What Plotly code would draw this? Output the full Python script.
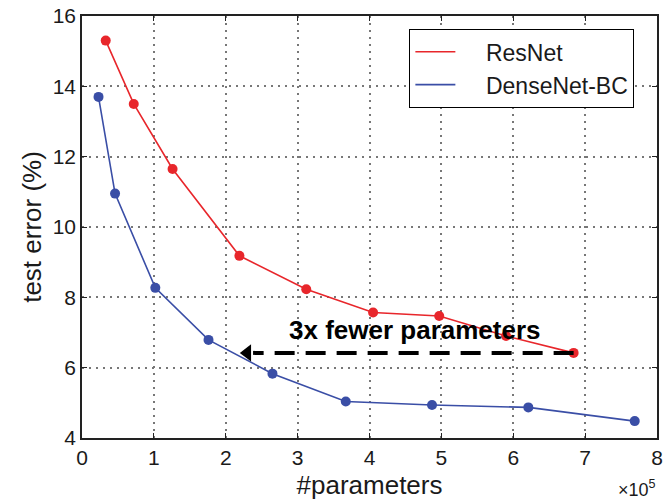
import plotly.graph_objects as go

# Data (x in units of 1e5 parameters)
resnet_x = [0.33, 0.72, 1.26, 2.19, 3.12, 4.05, 4.97, 5.9, 6.84]
resnet_y = [15.3, 13.5, 11.65, 9.18, 8.23, 7.57, 7.47, 6.9, 6.42]
dense_x = [0.23, 0.46, 1.02, 1.76, 2.65, 3.67, 4.87, 6.21, 7.69]
dense_y = [13.7, 10.95, 8.27, 6.79, 5.83, 5.04, 4.94, 4.87, 4.48]
series_names = ["ResNet", "DenseNet-BC"]
arrow_tip_x = 2.2
annot_text = "3x fewer parameters"
x_ticks = [0, 1, 2, 3, 4, 5, 6, 7, 8]
y_ticks = [4, 6, 8, 10, 12, 14, 16]

RED = "#e8262b"
BLUE = "#3a4ea6"
FONT = "Liberation Sans, Arial, Helvetica, sans-serif"
TXT = "#1a1a1a"
PAD = "\u00a0" * 4

fig = go.Figure()
fig.add_trace(go.Scatter(x=resnet_x, y=resnet_y, mode="lines+markers",
                         line=dict(color=RED, width=1.6), marker=dict(color=RED, size=10),
                         showlegend=False))
fig.add_trace(go.Scatter(x=dense_x, y=dense_y, mode="lines+markers",
                         line=dict(color=BLUE, width=1.6), marker=dict(color=BLUE, size=10),
                         showlegend=False))
# legend-only entries (line only)
fig.add_trace(go.Scatter(x=[None], y=[None], mode="lines", name=PAD + series_names[0],
                         line=dict(color=RED, width=1.6)))
fig.add_trace(go.Scatter(x=[None], y=[None], mode="lines", name=PAD + series_names[1],
                         line=dict(color=BLUE, width=1.6)))

# dashed arrow from last ResNet point leftwards
ay = resnet_y[-1]
fig.add_trace(go.Scatter(x=[resnet_x[-1], arrow_tip_x + 0.18], y=[ay, ay], mode="lines",
                         line=dict(color="black", width=4, dash="20px,11px"),
                         showlegend=False, hoverinfo="skip"))
fig.add_trace(go.Scatter(x=[arrow_tip_x + 0.1], y=[ay], mode="markers",
                         marker=dict(symbol="triangle-left", color="black", size=15),
                         showlegend=False, hoverinfo="skip"))

fig.add_annotation(x=(resnet_x[-1] + arrow_tip_x) / 2 + 0.1, y=ay + 0.65, text="<b>" + annot_text + "</b>",
                   showarrow=False, font=dict(size=26, color="black", family=FONT),
                   xanchor="center", yanchor="middle")

fig.add_annotation(xref="paper", yref="paper", x=1.002, y=-0.088, text="×10<sup>5</sup>",
                   showarrow=False, xanchor="right", yanchor="top",
                   font=dict(size=18, color=TXT, family=FONT))

axis_common = dict(showline=True, linecolor="#222", linewidth=1.5, mirror="ticks",
                   ticks="inside", ticklen=5, tickcolor="#222",
                   showgrid=True, gridcolor="#777", griddash="1.5px,5.5px", gridwidth=1.5,
                   zeroline=False, tickfont=dict(size=21, color=TXT, family=FONT))

fig.update_xaxes(range=[0, 8], tickvals=x_ticks,
                 title=dict(text="#parameters", font=dict(size=26, color=TXT, family=FONT), standoff=8),
                 **axis_common)
fig.update_yaxes(range=[4, 16], tickvals=y_ticks,
                 title=dict(text="test error (%)", font=dict(size=26, color=TXT, family=FONT), standoff=4),
                 **axis_common)

fig.update_layout(width=664, height=502, margin=dict(l=82, r=7, t=16, b=64, autoexpand=False),
                  plot_bgcolor="white", paper_bgcolor="white",
                  font=dict(family=FONT, color=TXT),
                  legend=dict(x=0.569, y=0.969, xanchor="left", yanchor="top",
                              bgcolor="white", bordercolor="black", borderwidth=1.2,
                              font=dict(size=23, color=TXT, family=FONT),
                              itemwidth=40, tracegroupgap=0))

fig.write_html("out.html", config={"displayModeBar": False},
               post_script="document.body.style.margin='0';document.body.style.overflow='hidden';")
